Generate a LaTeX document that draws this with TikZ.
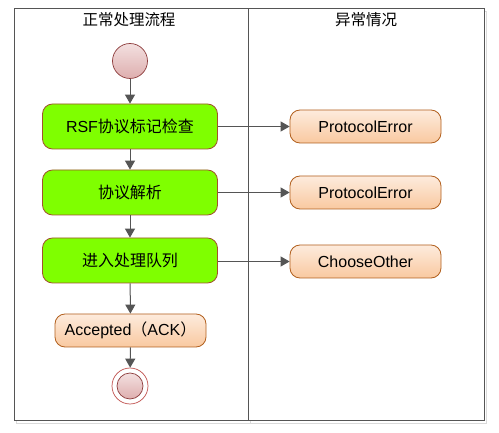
\documentclass[tikz,border=0pt]{standalone}
\usepackage{fontspec}
\setmainfont{Liberation Sans}
\newfontfamily\cjk{Noto Sans CJK SC}
\usetikzlibrary{arrows.meta}
\definecolor{framec}{HTML}{555555}
\definecolor{shadowc}{HTML}{DADADA}
\definecolor{greenc}{HTML}{7FFF00}
\definecolor{brownc}{HTML}{A0522D}
\definecolor{orangetop}{HTML}{FDEBDD}
\definecolor{orangebot}{HTML}{F9C9A0}
\definecolor{orangeb}{HTML}{B2601E}
\definecolor{circtop}{HTML}{F3E0E0}
\definecolor{circbot}{HTML}{DEAEAE}
\definecolor{circb}{HTML}{8E3E3E}
\definecolor{ringc}{HTML}{C0504D}
\definecolor{arrowc}{HTML}{555555}
\tikzset{
  greenbox/.style={draw=brownc, line width=0.8pt, fill=greenc, rounded corners=10pt, minimum width=175pt, minimum height=45pt, inner sep=0pt, font=\fontsize{16}{19}\selectfont},
  orangebox/.style={draw=orangeb, line width=0.8pt, top color=orangetop, bottom color=orangebot, rounded corners=10pt, minimum width=151pt, minimum height=33pt, inner sep=0pt, font=\fontsize{16}{19}\selectfont},
  startc/.style={circle, draw=circb, line width=0.7pt, top color=circtop, bottom color=circbot, minimum size=35pt, inner sep=0pt},
  endring/.style={circle, draw=ringc, line width=0.7pt, fill=white, minimum size=36pt, inner sep=0pt},
  endc/.style={circle, draw=circb, line width=0.7pt, top color=circtop, bottom color=circbot, minimum size=26pt, inner sep=0pt},
  flow/.style={draw=arrowc, line width=1pt, -{Triangle[length=9pt,width=10pt]}},
  header/.style={font=\cjk\fontsize{15.5}{18}\selectfont, inner sep=0pt},
}
\begin{document}
\begin{tikzpicture}[x=1pt,y=-1pt]
\useasboundingbox (0,0) rectangle (499,433);
% frame shadow
\draw[shadowc, line width=1pt] (16.5,11.5) rectangle (486.5,423.5);
\draw[shadowc, line width=1pt] (250.5,11.5) -- (250.5,423.5);
\draw[framec, line width=1pt, fill=white] (14,9) rectangle (484,421);
\draw[framec, line width=1pt] (248,9) -- (248,421);
% headers
\node[header] (h1) at (129,20) {正常处理流程};
\node[header] (h2) at (366,20) {异常情况};
% left lane
\node[startc] (start) at (130,61) {};
\node[greenbox] (b1) at (130,126.5) {RSF{\cjk 协议标记检查}};
\node[greenbox] (b2) at (130,192.5) {\cjk 协议解析};
\node[greenbox] (b3) at (130,260.5) {\cjk 进入处理队列};
\node[orangebox] (acc) at (130.5,330.5) {Accepted{\cjk （}ACK{\cjk ）}};
\node[endring] (endo) at (130,386) {};
\node[endc] (endi) at (130,386) {};
% right lane
\node[orangebox] (e1) at (365.5,126.5) {ProtocolError};
\node[orangebox] (e2) at (365.5,192.5) {ProtocolError};
\node[orangebox] (e3) at (365.5,261.5) {ChooseOther};
% connectors
\draw[flow] (start) -- (b1);
\draw[flow] (b1) -- (b2);
\draw[flow] (b2) -- (b3);
\draw[flow] (b3) -- (acc);
\draw[flow] (acc) -- (endo);
\draw[flow] (b1) -- (e1);
\draw[flow] (b2) -- (e2);
\draw[flow] (b3.east |- e3) -- (e3);
\end{tikzpicture}
\end{document}
